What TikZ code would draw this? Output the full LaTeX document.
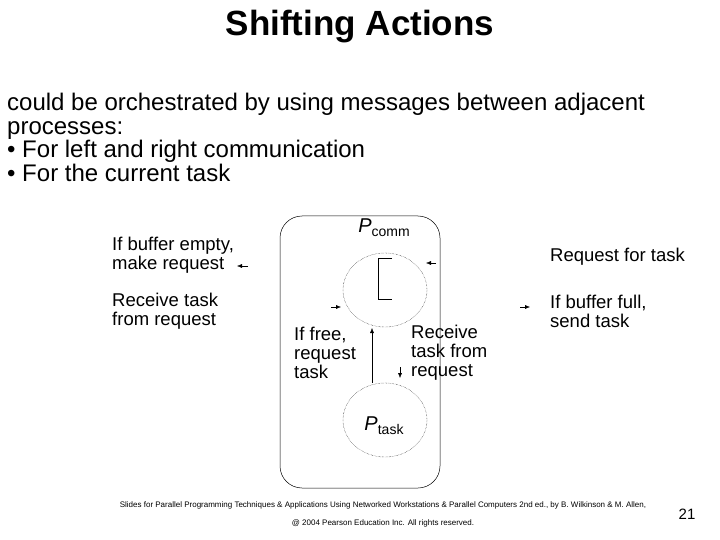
\documentclass[tikz,border=0pt]{standalone}
\usepackage{fontspec}
\setmainfont{Liberation Sans}
\usetikzlibrary{arrows.meta,shapes.geometric}
\begin{document}
\begin{tikzpicture}[x=1pt,y=-1pt,
  lbl/.style={anchor=west,align=left,font=\fontsize{18.5}{19}\selectfont,inner sep=0pt},
  tip/.style={-{Latex[length=5pt,width=4pt]}},
  circ/.style={draw,densely dotted,line width=0.4pt,ellipse,minimum width=84pt,minimum height=74pt,inner sep=0pt}]
\useasboundingbox (0,0) rectangle (720,540);
\node[font=\bfseries\fontsize{35}{36}\selectfont] (title) at (360,27) {Shifting Actions};
\node[anchor=north west,align=left,inner sep=0pt,font=\fontsize{24}{23.5}\selectfont] (body) at (7,93)
 {could be orchestrated by using messages between adjacent\\processes:\\\textbullet{} For left and right communication\\\textbullet{} For the current task};
\draw[rounded corners=22pt,line width=0.5pt] (280,216) rectangle (440,488);
\node[circ] (pc) at (385,290) {};
\node[circ] (pt) at (385,420) {};
\node[font=\fontsize{20}{20}\selectfont] (pcl) at (384,228) {\textit{P}\raisebox{-0.4ex}{\fontsize{14}{14}\selectfont comm}};
\node[font=\fontsize{20}{20}\selectfont] (ptl) at (384,426) {\textit{P}\raisebox{-0.4ex}{\fontsize{14}{14}\selectfont task}};
\draw (392,258) -- (378,258) -- (378,299) -- (392,299);
\coordinate (a1) at (372,383);
\coordinate (a2) at (372,328);
\draw[tip] (a1) -- (a2);
\coordinate (b1) at (400,367);
\coordinate (b2) at (400,378);
\draw[tip] (b1) -- (b2);
\node[lbl] (l1) at (112,255) {If buffer empty,\\make request};
\node[lbl] (l2) at (112,311) {Receive task\\from request};
\node[lbl] (l3) at (294,353) {If free,\\request\\task};
\node[lbl] (l4) at (411,353) {Receive\\task from\\request};
\node[lbl] (l5) at (550,257) {Request for task};
\node[lbl] (l6) at (550,311) {If buffer full,\\send task};
\coordinate (c1) at (248,266); \coordinate (c2) at (237,266); \draw[tip] (c1) -- (c2);
\coordinate (d1) at (436,263); \coordinate (d2) at (426,263); \draw[tip] (d1) -- (d2);
\coordinate (e1) at (331,307); \coordinate (e2) at (341,307); \draw[tip] (e1) -- (e2);
\coordinate (f1) at (520,307); \coordinate (f2) at (530,307); \draw[tip] (f1) -- (f2);
\node[align=center,font=\fontsize{8}{18}\selectfont] (foot) at (383,514) {Slides for Parallel Programming Techniques \& Applications Using Networked Workstations \& Parallel Computers 2nd ed., by B. Wilkinson \& M. Allen,\\@ 2004 Pearson Education Inc. All rights reserved.};
\node[font=\fontsize{15}{15}\selectfont] (pg) at (687,514) {21};
\end{tikzpicture}
\end{document}
